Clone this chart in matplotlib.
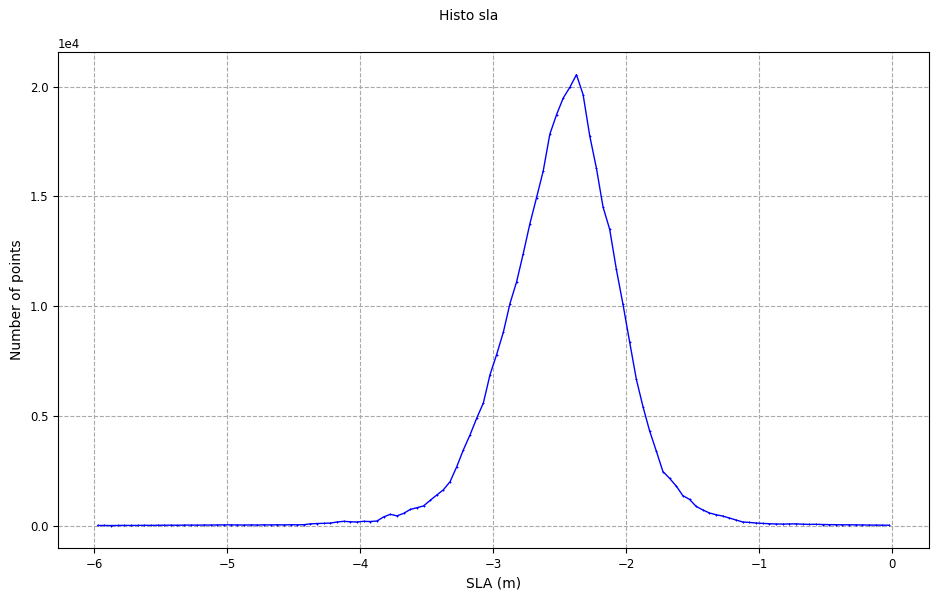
import numpy as np
import matplotlib
matplotlib.use("Agg")
import matplotlib.pyplot as plt

# bin centres of the SLA histogram (m)
sla_bins = np.round(np.arange(-5.975, 0, 0.05), 3)

# number of points per bin
counts = [
    10, 12, 8, 10, 15, 12, 14, 18, 16, 20,
    22, 25, 20, 28, 30, 26, 32, 30, 35, 38,
    40, 35, 30, 38, 32, 40, 36, 42, 38, 45,
    40, 48, 85, 100, 110, 120, 170, 200, 180, 170,
    200, 190, 215, 400, 520, 450, 560, 740, 820, 900,
    1155, 1400, 1640, 2010, 2690, 3460, 4140, 4900, 5590, 6880,
    7800, 8810, 10120, 11110, 12400, 13760, 14950, 16160, 17840, 18720,
    19480, 19970, 20550, 19640, 17760, 16290, 14520, 13500, 11680, 10080,
    8370, 6680, 5430, 4320, 3410, 2470, 2160, 1810, 1370, 1200,
    880, 720, 580, 500, 440, 350, 260, 170, 150, 123,
    105, 90, 80, 75, 80, 85, 70, 60, 65, 55,
    50, 45, 40, 42, 38, 35, 30, 28, 25, 22,
]

fig, ax = plt.subplots(figsize=(9.37, 5.99), dpi=100)
fig.subplots_adjust(left=0.062, right=0.991, top=0.913, bottom=0.085)

ax.plot(sla_bins, counts, color="blue", linewidth=1, marker="+",
        markersize=2, markeredgewidth=0.7)

fig.suptitle("Histo sla", fontsize=10, y=0.985)
ax.set_xlabel("SLA (m)", fontsize=10)
ax.set_ylabel("Number of points", fontsize=10)
ax.tick_params(labelsize=8.5)
ax.ticklabel_format(axis="y", style="sci", scilimits=(0, 0))
ax.yaxis.get_offset_text().set_fontsize(8.5)
ax.grid(True, linestyle="--", color="darkgray")

fig.savefig("out.png", dpi=100)
